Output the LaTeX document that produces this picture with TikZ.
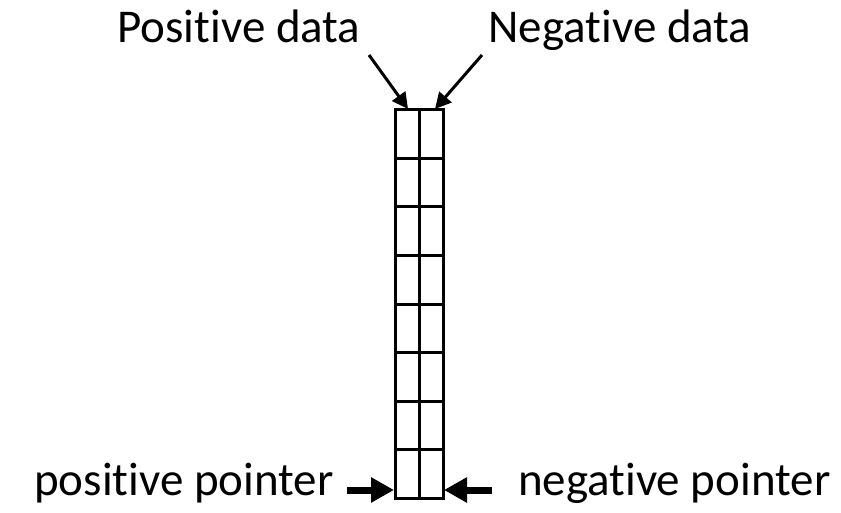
\documentclass[tikz,border=0pt]{standalone}
\usepackage{fontspec}
\setmainfont[Ligatures=NoCommon]{Carlito}
\usetikzlibrary{arrows.meta}
\begin{document}
\begin{tikzpicture}[x=1pt,y=-1pt,
  cell/.style={draw,line width=3pt},
  lbl/.style={font=\fontsize{47}{52}\selectfont,inner sep=0pt},
  thinarrow/.style={line width=3pt,-{Triangle[length=16pt,width=16pt]}},
  thickarrow/.style={line width=7pt,-{Triangle[length=23pt,width=24pt]}}]
\useasboundingbox (0,0) rectangle (841,513);
\foreach \i in {0,...,7}{
  \draw[cell] (395,{110+48.5*\i}) rectangle (419,{110+48.5*(\i+1)});
  \draw[cell] (419,{110+48.5*\i}) rectangle (443,{110+48.5*(\i+1)});
}
\coordinate (topL) at (408,109);
\coordinate (topR) at (435,109);
\coordinate (botL) at (394,490);
\coordinate (botR) at (444,490);
\node[lbl,anchor=base] (pd) at (239,43) {Positive data};
\node[lbl,anchor=base] (nd) at (620,43) {Negative data};
\node[lbl,anchor=base east] (pp) at (334,495) {positive pointer};
\node[lbl,anchor=base west] (np) at (518,495) {negative pointer};
\coordinate (sL) at (369,55);
\coordinate (sR) at (482,55);
\draw[thinarrow] (sL) -- (topL);
\draw[thinarrow] (sR) -- (topR);
\coordinate (bL) at (347,490);
\coordinate (bR) at (492,490);
\draw[thickarrow] (bL) -- (botL);
\draw[thickarrow] (bR) -- (botR);
\end{tikzpicture}
\end{document}
